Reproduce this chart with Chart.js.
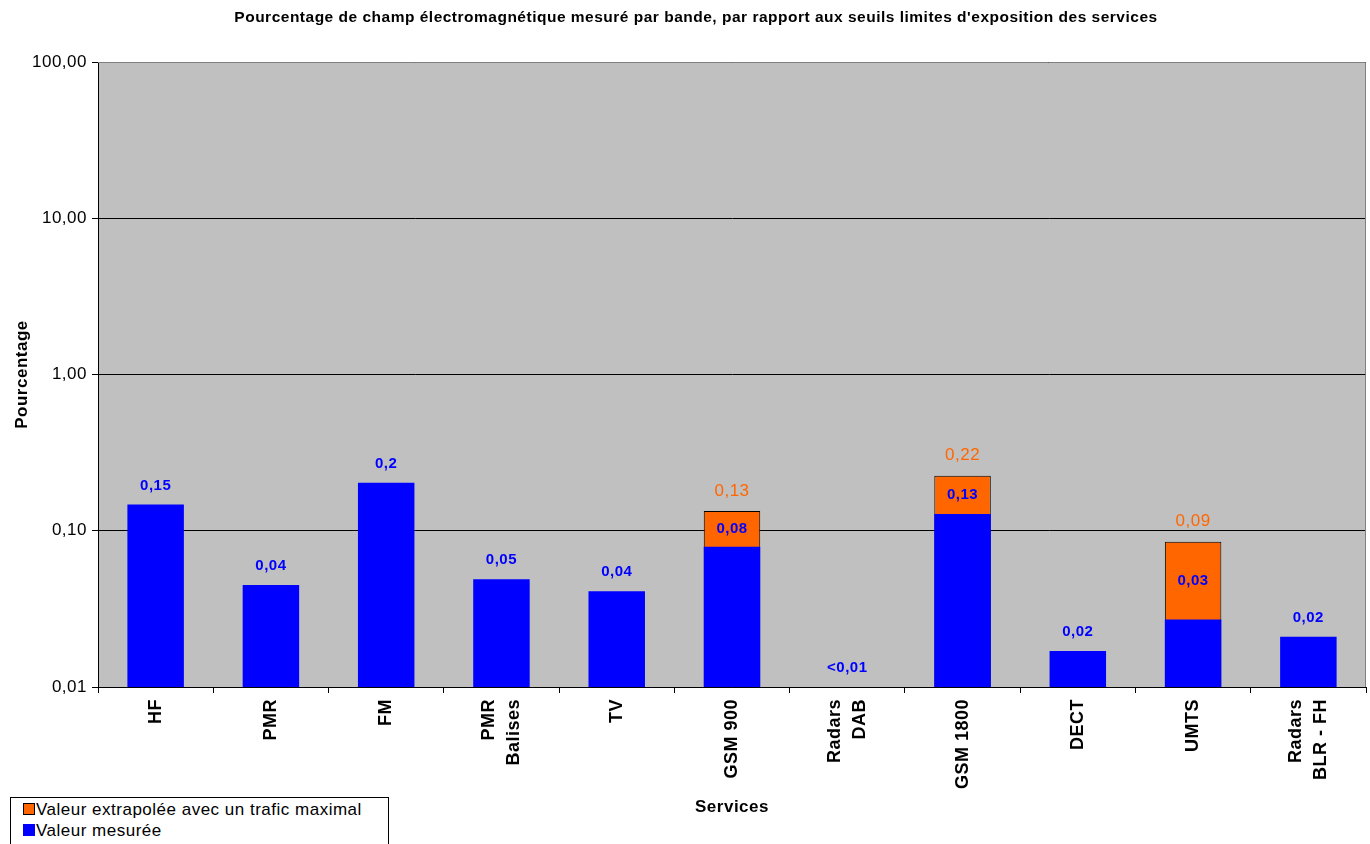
<!DOCTYPE html>
<html>
<head>
<meta charset="utf-8">
<script src="https://cdn.jsdelivr.net/npm/chart.js@4.4.1/dist/chart.umd.min.js"></script>
<style>
  body { margin: 0; background: #fff; font-family: "Liberation Sans", Arial, sans-serif; }
  #wrap { position: relative; width: 1370px; height: 844px; }
  #legend { position: absolute; left: 10px; top: 797px; width: 377px; height: 60px; border: 1px solid #000; background: #fff; font-size: 17px; letter-spacing: 0.5px; color: #000; }
  #legend div { position: absolute; left: 12px; white-space: nowrap; line-height: 20px; }
  #legend span { display: inline-block; width: 10px; height: 10px; margin-right: 1px; vertical-align: 0px; }
</style>
</head>
<body>
<div id="wrap">
  <canvas id="myChart"></canvas>
  <div id="legend"></div>
</div>
<script>
const title = "Pourcentage de champ électromagnétique mesuré par bande, par rapport aux seuils limites d'exposition des services"
const services = ["HF", "PMR", "FM", ["PMR", "Balises"], "TV", "GSM 900", ["Radars", "DAB"], "GSM 1800", "DECT", "UMTS", ["Radars", "BLR - FH"]]
// valeurs (%)
const measured = [0.147, 0.045, 0.203, 0.049, 0.041, 0.079, null, 0.128, 0.017, 0.027, 0.021]
const extrapolated = [null, null, null, null, null, 0.134, null, 0.225, null, 0.085, null]
const measuredLabels = ["0,15", "0,04", "0,2", "0,05", "0,04", "0,08", "<0,01", "0,13", "0,02", "0,03", "0,02"]
const extrapolatedLabels = [null, null, null, null, null, "0,13", null, "0,22", null, "0,09", null]
const yTicks = [0.01, 0.1, 1, 10, 100]

const BLUE = "#0000FF"
const ORANGE = "#FF6600"
const FONT = "'Liberation Sans', Arial, sans-serif"

const plotBg = {
  id: "plotBg",
  beforeDraw(chart) {
    const a = chart.chartArea
    const ctx = chart.ctx
    ctx.letterSpacing = "0.5px"
    ctx.save()
    ctx.fillStyle = "#C0C0C0"
    ctx.fillRect(a.left, a.top, a.right - a.left, a.bottom - a.top)
    ctx.restore()
  },
  afterDraw(chart) {
    const a = chart.chartArea
    const ctx = chart.ctx
    ctx.save()
    ctx.strokeStyle = "#808080"
    ctx.lineWidth = 1
    ctx.beginPath()
    ctx.moveTo(a.left, a.top + 0.5)
    ctx.lineTo(a.right - 0.5, a.top + 0.5)
    ctx.lineTo(a.right - 0.5, a.bottom)
    ctx.stroke()
    // titre
    ctx.fillStyle = "#000"
    ctx.textAlign = "center"
    ctx.textBaseline = "middle"
    ctx.font = "bold 15.5px " + FONT
    ctx.fillText(title, 696, 18)
    // libellés des catégories, tournés, centrés sur la graduation
    const xs = chart.scales.x
    ctx.font = "bold 18px " + FONT
    ctx.textAlign = "right"
    services.forEach((s, i) => {
      const lines = Array.isArray(s) ? s : [s]
      const x = xs.getPixelForValue(i)
      lines.forEach((line, k) => {
        const dx = (k - (lines.length - 1) / 2) * 25
        ctx.save()
        ctx.translate(x + dx, a.bottom + 12)
        ctx.rotate(-Math.PI / 2)
        ctx.fillText(line, 0, 0)
        ctx.restore()
      })
    })
    ctx.restore()
  }
}

const barLabels = {
  id: "barLabels",
  afterDatasetsDraw(chart) {
    const ctx = chart.ctx
    const blue = chart.getDatasetMeta(0).data
    const orange = chart.getDatasetMeta(1).data
    const ys = chart.scales.y
    const xs = chart.scales.x
    ctx.save()
    ctx.textAlign = "center"
    ctx.textBaseline = "middle"
    services.forEach((s, i) => {
      const x = xs.getPixelForValue(i)
      const blueTop = measured[i] == null ? ys.getPixelForValue(ys.min) : blue[i].y
      if (extrapolated[i] != null) {
        const top = orange[i].y
        ctx.font = "17px " + FONT
        ctx.fillStyle = ORANGE
        ctx.fillText(extrapolatedLabels[i], x, top - 20)
        ctx.font = "bold 15px " + FONT
        ctx.fillStyle = BLUE
        ctx.fillText(measuredLabels[i], x, (top + blueTop) / 2)
      } else {
        ctx.font = "bold 15px " + FONT
        ctx.fillStyle = BLUE
        ctx.fillText(measuredLabels[i], x, blueTop - 19)
      }
    })
    ctx.restore()
  }
}

const ctx = document.querySelector("#myChart")
const myChart = new Chart(ctx, {
  type: "bar",
  data: {
    labels: services,
    datasets: [{
      label: "Valeur mesurée",
      data: measured,
      backgroundColor: BLUE,
      borderWidth: 0,
      grouped: false
    }, {
      label: "Valeur extrapolée avec un trafic maximal",
      data: extrapolated,
      backgroundColor: ORANGE,
      borderColor: "#000",
      borderWidth: 1,
      grouped: false
    }]
  },
  options: {
    responsive: true,
    maintainAspectRatio: false,
    animation: false,
    layout: { padding: { left: 0, right: 4, top: 62, bottom: 0 } },
    categoryPercentage: 1,
    barPercentage: 0.49,
    plugins: {
      legend: { display: false },
      tooltip: { enabled: false },
      title: { display: false }
    },
    scales: {
      x: {
        ticks: { display: false },
        grid: { drawOnChartArea: false, color: "#000", tickLength: 6, offset: true },
        border: { color: "#000", width: 1 },
        title: {
          display: true,
          text: "Services",
          color: "#000",
          font: { family: FONT, size: 17, weight: "bold" },
          padding: { top: 0, bottom: 26 }
        },
        afterFit: (s) => { s.height = 157 }
      },
      y: {
        type: "logarithmic",
        min: 0.01,
        max: 100,
        afterBuildTicks: (s) => { s.ticks = yTicks.map((v) => ({ value: v })) },
        ticks: {
          color: "#000",
          font: { family: FONT, size: 17 },
          padding: 5,
          callback: (v) => Number(v).toFixed(2).replace(".", ",")
        },
        grid: { color: "#000", tickLength: 6 },
        border: { color: "#000", width: 1 },
        title: {
          display: true,
          text: "Pourcentage",
          color: "#000",
          font: { family: FONT, size: 17, weight: "bold" },
          padding: { top: 12, bottom: 0 }
        },
        afterFit: (s) => { s.width = 98 }
      }
    }
  },
  plugins: [plotBg, barLabels]
})

// legende (ordre Excel : extrapolée puis mesurée)
const legend = document.querySelector("#legend")
const items = [
  { text: myChart.data.datasets[1].label, color: ORANGE, border: "1px solid #000" },
  { text: myChart.data.datasets[0].label, color: BLUE, border: "1px solid " + BLUE }
]
items.forEach((it, k) => {
  const d = document.createElement("div")
  d.style.top = (2 + k * 21) + "px"
  d.innerHTML = '<span style="background:' + it.color + ';border:' + it.border + '"></span>' + it.text
  legend.appendChild(d)
})
</script>
</body>
</html>
